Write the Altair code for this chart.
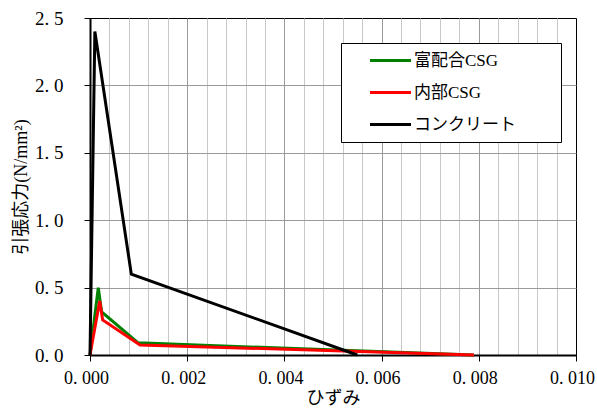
import altair as alt
import pandas as pd

# Stress–strain curves (strain, tensile stress in N/mm²)
series_names = ["富配合CSG", "内部CSG", "コンクリート"]
series_colors = ["#008000", "#ff0000", "#000000"]

strain_rich = [0.0, 0.00017, 0.00024, 0.00099, 0.0079]
stress_rich = [0.0, 0.50, 0.32, 0.09, 0.0]

strain_inner = [0.0, 0.00020, 0.00026, 0.00103, 0.0079]
stress_inner = [0.0, 0.40, 0.26, 0.075, 0.0]

strain_conc = [0.0, 0.00010, 0.00085, 0.0055]
stress_conc = [0.0, 2.40, 0.60, 0.0]

x_major = [0.0, 0.002, 0.004, 0.006, 0.008, 0.010]
x_major_inner = [0.002, 0.004, 0.006, 0.008]
x_minor = [0.0004, 0.0008, 0.0012, 0.0016,
           0.0024, 0.0028, 0.0032, 0.0036,
           0.0044, 0.0048, 0.0052, 0.0056,
           0.0064, 0.0068, 0.0072, 0.0076,
           0.0084, 0.0088, 0.0092, 0.0096]
y_major = [0.0, 0.5, 1.0, 1.5, 2.0, 2.5]
y_major_inner = [0.5, 1.0, 1.5, 2.0]

rows = []
for name, xs, ys in zip(series_names,
                        [strain_rich, strain_inner, strain_conc],
                        [stress_rich, stress_inner, stress_conc]):
    for i, (sx, sy) in enumerate(zip(xs, ys)):
        rows.append({"series": name, "strain": sx, "stress": sy, "idx": i})
df = pd.DataFrame(rows)

LABEL_FONT = "Liberation Serif, Noto Sans CJK JP"
x_scale = alt.Scale(domain=[0, 0.01], nice=False, zero=False)
y_scale = alt.Scale(domain=[0, 2.5], nice=False)

base = alt.Chart(df)

# light minor vertical grid
minor_grid = base.mark_line(strokeOpacity=0).encode(
    x=alt.X("strain:Q", scale=x_scale,
            axis=alt.Axis(orient="bottom", values=x_minor, grid=True,
                          gridColor="#c8c8c8", gridWidth=1, labels=False,
                          ticks=False, domain=False, title=None)),
    y=alt.Y("stress:Q", scale=y_scale, axis=None),
    detail="series:N",
)

# darker major grid
major_grid = base.mark_line(strokeOpacity=0).encode(
    x=alt.X("strain:Q", scale=x_scale,
            axis=alt.Axis(orient="bottom", values=x_major_inner, grid=True,
                          gridColor="#9a9a9a", gridWidth=1, labels=False,
                          ticks=False, domain=False, title=None)),
    y=alt.Y("stress:Q", scale=y_scale,
            axis=alt.Axis(orient="left", values=y_major_inner, grid=True,
                          gridColor="#9a9a9a", gridWidth=1, labels=False,
                          ticks=False, domain=False, title=None)),
    detail="series:N",
)

lines = base.mark_line(strokeWidth=3).encode(
    x=alt.X("strain:Q", scale=x_scale,
            axis=alt.Axis(orient="bottom", values=x_major, grid=False,
                          labelExpr="replace(format(datum.value, '.3f'), '.', '. ')",
                          labelFont=LABEL_FONT, labelFontSize=18,
                          labelColor="#000000", labelPadding=8, labelOffset=-4,
                          labelFlush=False,
                          domainColor="#000000", domainWidth=2,
                          tickColor="#000000", tickSize=6, tickWidth=1,
                          title="ひずみ", titleFont=LABEL_FONT,
                          titleFontSize=18, titleFontWeight="normal",
                          titleColor="#000000", titlePadding=2)),
    y=alt.Y("stress:Q", scale=y_scale,
            axis=alt.Axis(orient="left", values=y_major, grid=False,
                          labelExpr="replace(format(datum.value, '.1f'), '.', '. ')",
                          labelFont=LABEL_FONT, labelFontSize=19,
                          labelColor="#000000", labelPadding=21,
                          labelFlush=False,
                          domainColor="#000000", domainWidth=2,
                          tickColor="#000000", tickSize=6, tickWidth=1,
                          title="引張応力(N/mm²)", titleFont=LABEL_FONT,
                          titleFontSize=18, titleFontWeight="normal",
                          titleColor="#000000", titlePadding=4)),
    color=alt.Color("series:N",
                    scale=alt.Scale(domain=series_names, range=series_colors),
                    sort=series_names,
                    legend=alt.Legend(title=None, orient="none",
                                      legendX=251, legendY=25,
                                      symbolType="M-4.1,0H4.1",
                                      symbolSize=100,
                                      symbolStrokeWidth=3, symbolOffset=32,
                                      labelFont=LABEL_FONT, labelFontSize=17,
                                      labelColor="#000000", labelOffset=15,
                                      labelExpr="datum.label + '\u2800\u2800\u2800'",
                                      rowPadding=14, padding=9,
                                      fillColor="#ffffff", strokeColor="#000000",
                                      cornerRadius=0)),
    order="idx:Q",
)

chart = (
    alt.layer(minor_grid, major_grid, lines)
    .resolve_axis(x="independent", y="independent")
    .properties(width=486, height=337,
                autosize=alt.AutoSizeParams(type="none"),
                padding={"left": 90, "top": 18, "right": 21, "bottom": 55},
                background="#ffffff")
    .configure_view(stroke="#000000", strokeWidth=1)
)

chart.save("out.html", embed_options={"renderer": "svg", "actions": False})
